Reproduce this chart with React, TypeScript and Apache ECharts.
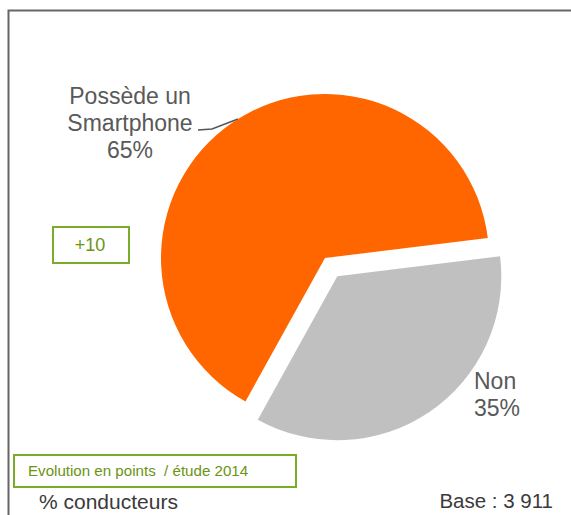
import React, { useEffect, useRef } from "react";
import * as echarts from "echarts";

const categories = ["Possède un\nSmartphone", "Non"];
const values = [65, 35];
const sliceColors = ["#FF6600", "#C0C0C0"];
const evolutionText = "+10";
const legendBoxText = "Evolution en points  / étude 2014";
const unitText = "% conducteurs";
const baseText = "Base : 3 911";

const FONT = 'Arial, "Liberation Sans", sans-serif';
const GREEN = "#7aac2c";
const GREEN_TEXT = "#6a9412";
const LABEL_COLOR = "#595959";

export default function App() {
  const ref = useRef<HTMLDivElement>(null);
  useEffect(() => {
    if (!ref.current) return;
    const chart = echarts.init(ref.current, null, { renderer: "svg" });
    const total = values.reduce((a, b) => a + b, 0);
    const grayLabel = `${categories[1]}\n${Math.round((values[1] / total) * 100)}%`;
    chart.setOption({
      animation: false,
      backgroundColor: "#ffffff",
      graphic: [
        {
          type: "rect",
          shape: { x: 8.5, y: 10.5, width: 700, height: 700 },
          style: { fill: "none", stroke: "#666666", lineWidth: 2 },
          silent: true,
        },
        {
          type: "rect",
          shape: { x: 53, y: 227, width: 76, height: 36 },
          style: { fill: "#fff", stroke: GREEN, lineWidth: 2 },
        },
        {
          type: "text",
          x: 90,
          y: 245,
          style: {
            text: evolutionText,
            fill: GREEN_TEXT,
            font: `18px ${FONT}`,
            align: "center",
            verticalAlign: "middle",
          },
        },
        {
          type: "rect",
          shape: { x: 14, y: 455, width: 282, height: 32 },
          style: { fill: "#fff", stroke: GREEN, lineWidth: 2 },
        },
        {
          type: "text",
          x: 28,
          y: 471,
          scaleX: 1.08,
          style: {
            text: legendBoxText,
            fill: GREEN_TEXT,
            font: `14px ${FONT}`,
            align: "left",
            verticalAlign: "middle",
          },
        },
        {
          type: "text",
          x: 39,
          y: 501,
          style: {
            text: unitText,
            fill: "#3a3a3a",
            font: `21px ${FONT}`,
            align: "left",
            verticalAlign: "middle",
          },
        },
        {
          type: "text",
          x: 553,
          y: 500,
          style: {
            text: baseText,
            fill: "#3a3a3a",
            font: `20.5px ${FONT}`,
            align: "right",
            verticalAlign: "middle",
          },
        },
        {
          type: "text",
          x: 474,
          y: 394,
          style: {
            text: grayLabel,
            fill: LABEL_COLOR,
            fontFamily: FONT,
            fontSize: 23,
            lineHeight: 27,
            align: "left",
            verticalAlign: "middle",
          },
        },
      ],
      series: [
        {
          type: "pie",
          center: [325, 258],
          radius: 164,
          startAngle: 241,
          clockwise: true,
          selectedMode: "single",
          selectedOffset: 22,
          emphasis: { disabled: true },
          label: {
            show: true,
            formatter: "{b}\n{d}%",
            fontFamily: FONT,
            fontSize: 23,
            lineHeight: 27,
            color: LABEL_COLOR,
          },
          labelLine: {
            show: true,
            lineStyle: { color: "#555555", width: 1.5 },
          },
          labelLayout: (p: any) => {
            if (p.dataIndex === 0) {
              return {
                x: 130,
                y: 123,
                align: "center",
                verticalAlign: "middle",
                labelLinePoints: [
                  [238, 119],
                  [212, 129],
                  [198, 130],
                ],
              };
            }
            return {};
          },
          data: categories.map((name, i) => ({
            name,
            value: values[i],
            selected: i === 1,
            itemStyle: { color: sliceColors[i] },
            label: { show: i === 0 },
            labelLine: { show: i === 0 },
          })),
        },
      ],
    });
    return () => chart.dispose();
  }, []);
  return (
    <div
      ref={ref}
      style={{ position: "fixed", left: 0, top: 0, width: 571, height: 515 }}
    />
  );
}
